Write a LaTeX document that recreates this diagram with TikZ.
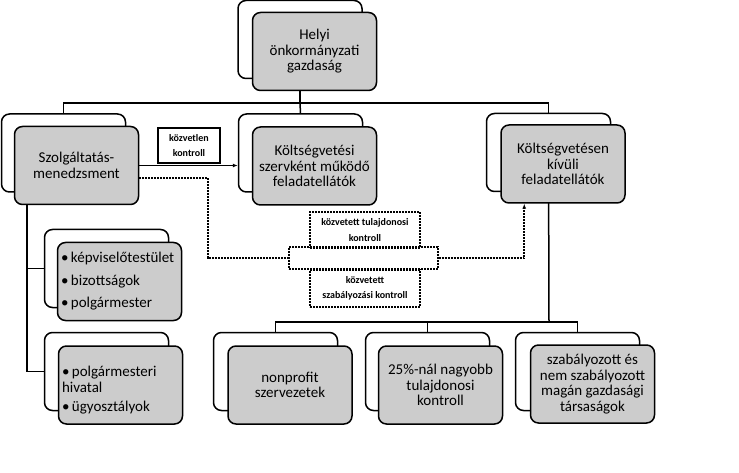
\documentclass[tikz,border=0pt]{standalone}
\usepackage{fontspec}
\setmainfont{Carlito}
\usetikzlibrary{calc,arrows.meta}
\pgfdeclarelayer{bg}
\pgfsetlayers{bg,main}
\tikzset{
  backbox/.style={draw, line width=1.5pt, rounded corners=8pt, fill=white,
    minimum width=124pt, minimum height=78pt, inner sep=0pt},
  frontbox/.style={draw, line width=1.5pt, rounded corners=8pt, fill=black!20,
    minimum width=124pt, minimum height=78pt, inner sep=2pt, align=center,
    font=\fontsize{15}{15.5}\selectfont},
  listbox/.style={frontbox, align=left, text width=117pt, inner sep=1pt},
  lbl/.style={draw, line width=1.4pt, align=center, inner sep=1pt,
    font=\bfseries\fontsize{10}{15.5}\selectfont},
  dotlbl/.style={lbl, dash pattern=on 2pt off 1pt},
  conn/.style={line width=1.5pt},
  dotconn/.style={line width=1.6pt, dash pattern=on 2pt off 1pt}
}

\begin{document}
\begin{tikzpicture}[x=1pt,y=-1pt]
  \useasboundingbox (0,0) rectangle (739,473);

  \node [backbox] (hback) at (300,39.5) {};
  \node [frontbox] (hfront) at (314.5,51.5) {Helyi\\önkormányzati\\gazdaság};

  \node [backbox] (szback) at (63.5,153) {};
  \node [frontbox] (szfront) at (76.5,165.5) {Szolgáltatás-\\menedzsment};

  \node [backbox] (koback) at (300.5,153) {};
  \node [frontbox] (kofront) at (314.5,166) {Költségvetési\\szervként működő\\feladatellátók};

  \node [backbox] (kivback) at (548.5,152.5) {};
  \node [frontbox] (kivfront) at (563,164) {Költségvetésen\\kívüli\\feladatellátók};

  \node [backbox] (kepback) at (106.5,268.5) {};
  \node [listbox] (kepfront) at (119.5,281.5)
    {\textbullet\,képviselőtestület\\[7pt]\textbullet\,bizottságok\\[7pt]\textbullet\,polgármester};

  \node [backbox] (polgback) at (106.5,371.5) {};
  \node [listbox, text depth=27pt] (polgfront) at (120.5,385)
    {\textbullet\,polgármesteri\\hivatal\\[4pt]\textbullet\,ügyosztályok};

  \node [backbox] (npback) at (275.5,371.5) {};
  \node [frontbox] (npfront) at (290,385) {nonprofit\\szervezetek};

  \node [backbox] (tuback) at (427.5,371.5) {};
  \node [frontbox] (tufront) at (440.5,385) {25\%-nál nagyobb\\tulajdonosi\\kontroll};

  \node [backbox] (gtback) at (577.5,371.5) {};
  \node [frontbox] (gtfront) at (592.5,384) {szabályozott és\\nem szabályozott\\magán gazdasági\\társaságok};

  \node [lbl, minimum width=62pt, minimum height=35pt] (direct) at (189,145.5) {közvetlen\\kontroll};
  \node [dotlbl, minimum width=149pt, minimum height=22pt] (midbox) at (363.5,258) {};
  \node [dotlbl, minimum width=110pt, minimum height=36pt] (owner) at (365,230) {közvetett tulajdonosi\\kontroll};
  \node [dotlbl, minimum width=110pt, minimum height=37pt] (rule) at (365,288.5) {közvetett\\szabályozási kontroll};

  \coordinate (topbar) at (300,103);
  \coordinate (lowbar) at (549,322);
  \coordinate (lcol) at (27,193);
  \coordinate (dstart) at ($(szfront.east)+(0,12.5)$);
  \coordinate (dturn) at (208,258);
  \coordinate (dend) at ($(kivfront.south west)+(24,0)$);

  \draw [conn, -{Latex[length=5pt,width=4pt]}] (szfront.east) -- (szfront.east -| koback.west);
  \draw [dotconn] (dstart) -| (dturn) -- (midbox.west);
  \draw [dotconn, -{Latex[length=5pt,width=4pt]}] (midbox.east) -| (dend);

  \begin{pgfonlayer}{bg}    % lines run behind the boxes
    \draw [conn] (hback) -- (topbar);
    \draw [conn] (szback.north) |- (topbar) -| (kivback.north);
    \draw [conn] (topbar) -- (koback.north);
    \draw [conn] (kivback) -- (lowbar);
    \draw [conn] (npback.north) |- (lowbar) -| (gtback.north);
    \draw [conn] (lowbar -| tuback.north) -- (tuback.north);
    \draw [conn] (lcol) |- (polgback.west);
    \draw [conn] (kepback.west) -- (kepback.west -| lcol);
  \end{pgfonlayer}
\end{tikzpicture}
\end{document}
